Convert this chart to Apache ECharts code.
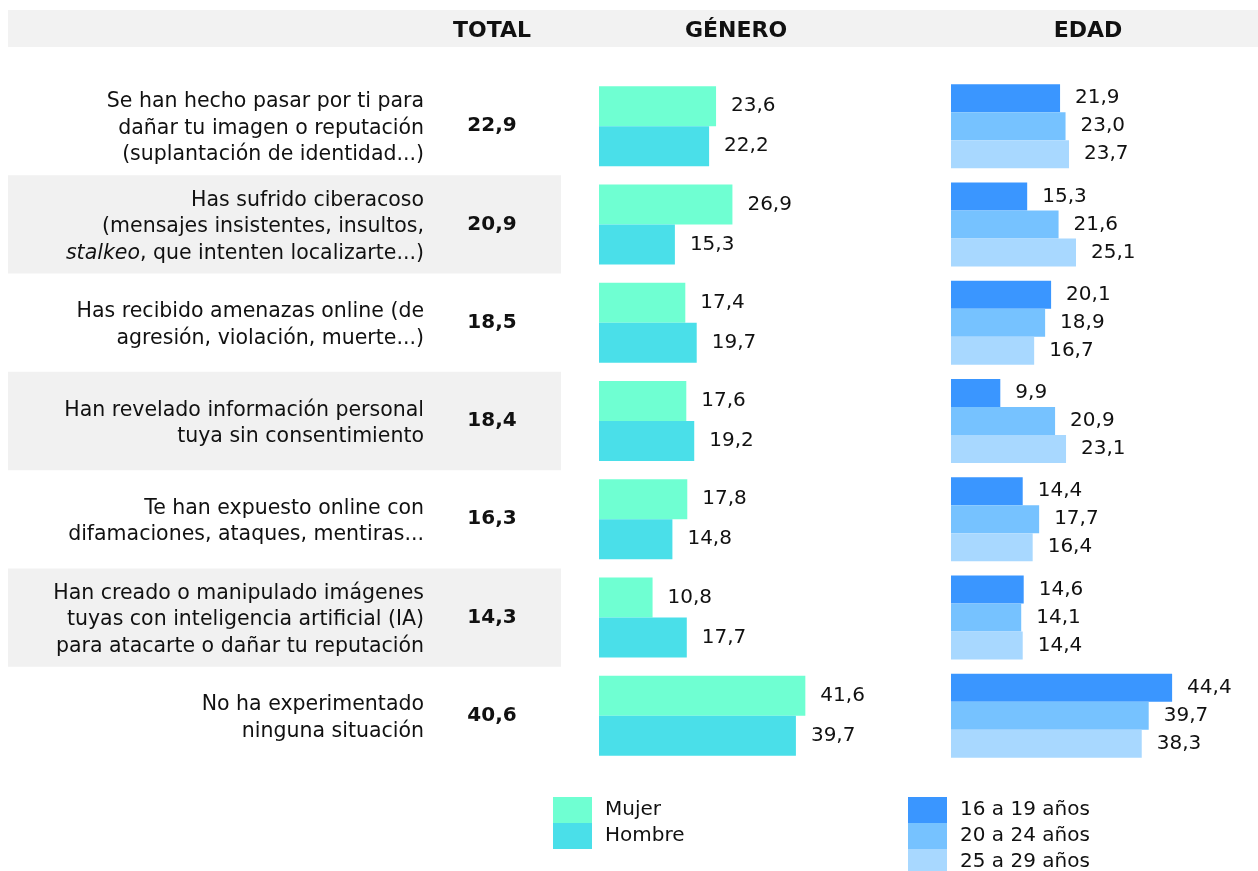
<!DOCTYPE html>
<html>
<head>
<meta charset="utf-8">
<script src="https://cdn.jsdelivr.net/npm/echarts@6/dist/echarts.min.js"></script>
<style>
  * { margin: 0; padding: 0; }
  html, body { background: #fff; }
</style>
</head>
<body>
<!-- contenedor con tamaño fijo para el gráfico -->
<div id="main" style="width: 1258px;height: 871px;"></div>
<script>
  var preguntas = [
    'Se han hecho pasar por ti para\ndañar tu imagen o reputación\n(suplantación de identidad...)',
    'Has sufrido ciberacoso\n(mensajes insistentes, insultos,\n{i|stalkeo}, que intenten localizarte...)',
    'Has recibido amenazas online (de\nagresión, violación, muerte...)',
    'Han revelado información personal\ntuya sin consentimiento',
    'Te han expuesto online con\ndifamaciones, ataques, mentiras...',
    'Han creado o manipulado imágenes\ntuyas con inteligencia artificial (IA)\npara atacarte o dañar tu reputación',
    'No ha experimentado\nninguna situación'
  ];
  var total = [22.9, 20.9, 18.5, 18.4, 16.3, 14.3, 40.6];
  var mujer = [23.6, 26.9, 17.4, 17.6, 17.8, 10.8, 41.6];
  var hombre = [22.2, 15.3, 19.7, 19.2, 14.8, 17.7, 39.7];
  var edad16 = [21.9, 15.3, 20.1, 9.9, 14.4, 14.6, 44.4];
  var edad20 = [23.0, 21.6, 18.9, 20.9, 17.7, 14.1, 39.7];
  var edad25 = [23.7, 25.1, 16.7, 23.1, 16.4, 14.4, 38.3];
  var cabeceras = ['TOTAL', 'GÉNERO', 'EDAD'];

  var fuente = 'DejaVu Sans';
  var tam = 20.5;      // preguntas
  var tamNum = 20;     // valores y leyenda
  function coma(v) { return v.toFixed(1).replace('.', ','); }

  var mycharts = echarts.init(document.getElementById('main'));

  var etiqueta = {
    show: true,
    position: 'right',
    distance: 15,
    color: '#111',
    fontFamily: fuente,
    fontSize: tamNum,
    padding: [3, 0, 0, 0],
    formatter: function (p) { return coma(p.value); }
  };

  function barra(nombre, datos, color, grid, ancho) {
    return {
      name: nombre,
      type: 'bar',
      xAxisIndex: grid,
      yAxisIndex: grid,
      data: datos,
      barWidth: ancho,
      barGap: '0%',
      itemStyle: { color: color },
      label: etiqueta,
      silent: true
    };
  }

  var ejeY = {
    type: 'category',
    data: preguntas,
    inverse: true,
    axisLine: { show: false },
    axisTick: { show: false },
    axisLabel: { show: false }
  };

  var leyenda = {
    orient: 'vertical', top: 797, height: 90, padding: 0,
    itemWidth: 39, itemHeight: 26, itemGap: 0, icon: 'rect',
    textStyle: { fontFamily: fuente, fontSize: tamNum, color: '#111', padding: [3, 0, 0, 8] },
    selectedMode: false
  };

  var cab = 'bold 22px ' + fuente;

  var option = {
    animation: false,
    textStyle: { fontFamily: fuente },
    graphic: [
      { type: 'rect', left: 8, top: 10, z: -10, shape: { width: 1250, height: 37 }, style: { fill: '#f2f2f2' } },
      { type: 'text', x: 492, y: 31, style: { text: cabeceras[0], font: cab, fill: '#111', align: 'center', verticalAlign: 'middle' } },
      { type: 'text', x: 736, y: 31, style: { text: cabeceras[1], font: cab, fill: '#111', align: 'center', verticalAlign: 'middle' } },
      { type: 'text', x: 1088, y: 31, style: { text: cabeceras[2], font: cab, fill: '#111', align: 'center', verticalAlign: 'middle' } }
    ],
    legend: [
      Object.assign({}, leyenda, { data: ['Mujer', 'Hombre'], left: 553 }),
      Object.assign({}, leyenda, { data: ['16 a 19 años', '20 a 24 años', '25 a 29 años'], left: 908 })
    ],
    grid: [
      { left: 599, top: 77, width: 248, height: 688 },
      { left: 951, top: 77, width: 249, height: 688 },
      { left: 8, top: 77, width: 553, height: 688, z: -5 }
    ],
    xAxis: [
      { type: 'value', gridIndex: 0, min: 0, max: 50, show: false },
      { type: 'value', gridIndex: 1, min: 0, max: 50, show: false },
      { type: 'value', gridIndex: 2, min: 0, max: 1, show: false }
    ],
    yAxis: [
      // preguntas a la izquierda
      Object.assign({}, ejeY, {
        gridIndex: 0,
        axisLabel: {
          show: true, margin: 175, color: '#111', fontFamily: fuente, fontSize: tam,
          lineHeight: 26.5, align: 'right', padding: [5, 0, 0, 0],
          rich: { i: { fontStyle: 'italic', fontFamily: fuente, fontSize: tam, color: '#111', lineHeight: 26.5 } }
        }
      }),
      Object.assign({}, ejeY, { gridIndex: 1 }),
      // franjas grises
      Object.assign({}, ejeY, {
        gridIndex: 2,
        splitArea: { show: true, areaStyle: { color: ['rgba(0,0,0,0)', '#f1f1f1'] } }
      }),
      // columna total
      Object.assign({}, ejeY, {
        gridIndex: 0,
        position: 'left',
        axisLabel: {
          show: true, margin: 107, align: 'center', color: '#111', fontFamily: fuente,
          fontSize: tamNum, fontWeight: 'bold', padding: [4, 0, 0, 0],
          formatter: function (v, i) { return coma(total[i]); }
        }
      })
    ],
    series: [
      barra('Mujer', mujer, '#6fffd2', 0, 40),
      barra('Hombre', hombre, '#4adfe9', 0, 40),
      barra('16 a 19 años', edad16, '#3a96ff', 1, 28),
      barra('20 a 24 años', edad20, '#76c2ff', 1, 28),
      barra('25 a 29 años', edad25, '#a8d8ff', 1, 28)
    ]
  };
  mycharts.setOption(option);
</script>
</body>
</html>
